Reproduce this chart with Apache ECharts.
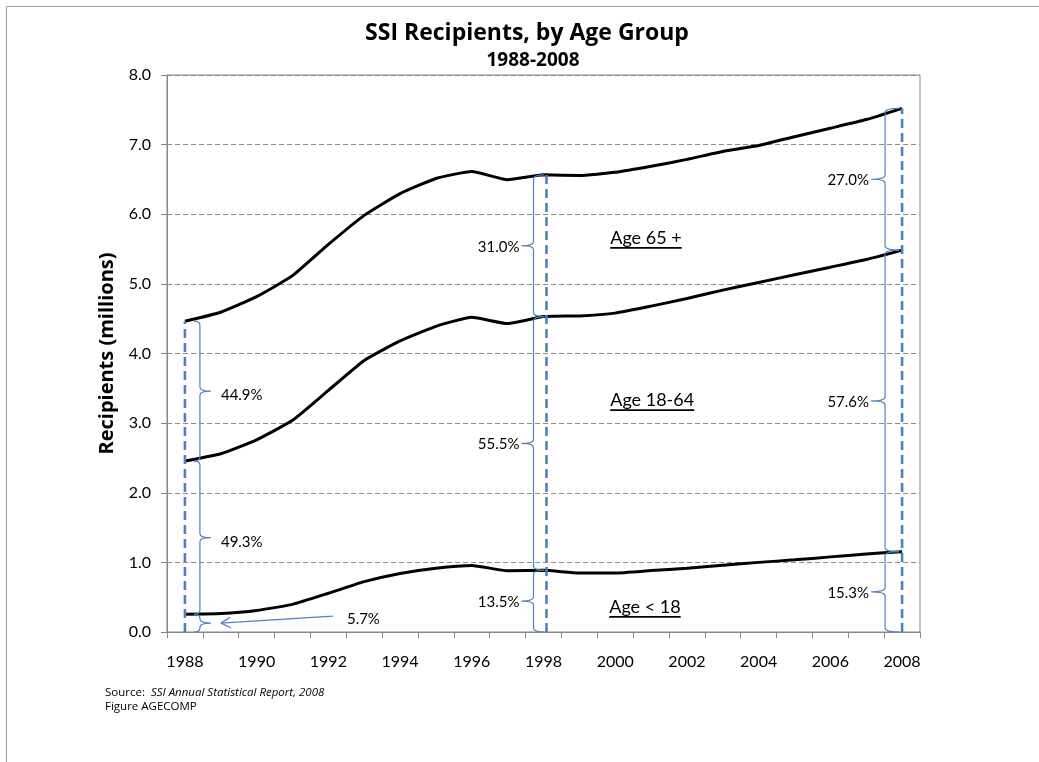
<!DOCTYPE html>
<html>
<head>
<meta charset="utf-8">
<script src="https://cdn.jsdelivr.net/npm/echarts@6/dist/echarts.min.js"></script>
<style>
html,body{margin:0;padding:0;background:#fff;}
#chart{width:1039px;height:762px;}
</style>
</head>
<body>
<div id="chart"></div>
<script>
// ---------- DATA ----------
const years = ['1988','1989','1990','1991','1992','1993','1994','1995','1996','1997','1998','1999','2000','2001','2002','2003','2004','2005','2006','2007','2008'];
// recipients in millions by group
const under18   = [0.255,0.265,0.309,0.397,0.556,0.723,0.841,0.917,0.955,0.880,0.887,0.847,0.847,0.882,0.915,0.959,1.000,1.036,1.079,1.121,1.153];
const age18to64 = [2.200,2.295,2.451,2.643,2.914,3.177,3.339,3.473,3.565,3.550,3.643,3.693,3.733,3.798,3.875,3.951,4.020,4.094,4.161,4.229,4.332];
const age65plus = [2.009,2.033,2.057,2.078,2.096,2.084,2.116,2.124,2.094,2.065,2.036,2.017,2.022,2.008,1.998,1.992,1.968,1.984,1.996,2.010,2.036];
const groupNames = ['Age < 18','Age 18-64','Age 65 +'];
// percent annotations
const annoYears  = ['1988','1998','2008'];
const pctUnder18 = ['5.7%','13.5%','15.3%'];
const pct18to64  = ['49.3%','55.5%','57.6%'];
const pct65plus  = ['44.9%','31.0%','27.0%'];
// axis
const yMin = 0, yMax = 8, yInterval = 1;
const titleText = 'SSI Recipients, by Age Group';
const subtitleText = '1988-2008';
const yAxisTitle = 'Recipients (millions)';
const sourceLabel = 'Source:  ';
const sourceItalic = 'SSI Annual Statistical Report, 2008';
const figureText = 'Figure AGECOMP';

// ---------- LAYOUT / STYLE (not data) ----------
const FONT = 'Lato, "Open Sans", sans-serif';
const FONT2 = '"Open Sans", Lato, sans-serif';
const BLUE = '#4F81BD';
const braceStyle = [
  {dir: 1,  dx: 15,  hook: 6,  point: 11, dashDx: 0},
  {dir: -1, dx: -10, hook: 11, point: 12, dashDx: 3},
  {dir: -1, dx: -17, hook: 14, point: 14, dashDx: 0}
];
const groupLabelLayout = [
  {cat: '2000', val: 0.36, dx: -6},
  {cat: '2000', val: 3.33, dx: -5},
  {cat: '2000', val: 5.66, dx: -5}
];

// ---------- derived ----------
const cum1 = under18.slice();
const cum2 = under18.map((v,i)=>v+age18to64[i]);
const cum3 = cum2.map((v,i)=>v+age65plus[i]);

const measureCtx = document.createElement('canvas').getContext('2d');
function textWidth(t, font){ measureCtx.font = font; return measureCtx.measureText(t).width; }

function bracePath(xv, y1, y2, dir, hook, point){
  const r = Math.min(4, (y2-y1)/4);
  const ym = (y1+y2)/2;
  const hx = xv - dir*hook;
  return 'M'+hx+','+y1+' Q'+xv+','+y1+' '+xv+','+(y1+r)+
         ' L'+xv+','+(ym-r)+' Q'+xv+','+ym+' '+(xv+dir*point)+','+ym+
         ' Q'+xv+','+ym+' '+xv+','+(ym+r)+' L'+xv+','+(y2-r)+
         ' Q'+xv+','+y2+' '+hx+','+y2;
}

const annos = annoYears.map((y,k)=>{
  const idx = years.indexOf(y);
  return {idx, k, segs: [
    [0, cum1[idx], pctUnder18[k]],
    [cum1[idx], cum2[idx], pct18to64[k]],
    [cum2[idx], cum3[idx], pct65plus[k]]
  ]};
});

const PCTFONT = '15px ' + FONT;
function renderAnno(params, api){
  const a = annos[params.dataIndex];
  const st = braceStyle[a.k];
  const base = api.coord([a.idx, 0]);
  const topP = api.coord([a.idx, a.segs[2][1]]);
  const cx = base[0];
  const children = [];
  children.push({type:'line', shape:{x1:cx+st.dashDx, y1:base[1], x2:cx+st.dashDx, y2:topP[1]},
    style:{stroke:BLUE, lineWidth:2.6, lineDash:[9,5]}, z2:5});
  const xv = cx + st.dx;
  a.segs.forEach((s, j)=>{
    const yb = api.coord([a.idx, s[0]])[1];
    const yt = api.coord([a.idx, s[1]])[1];
    children.push({type:'path', shape:{pathData: bracePath(xv, yt, yb, st.dir, st.hook, st.point)},
      style:{stroke:BLUE, lineWidth:1.2, fill:null}, z2:4});
    const tipX = xv + st.dir*st.point;
    const tipY = (yt+yb)/2;
    if (a.k === 0 && j === 0) {
      const x0 = tipX + 10, y0 = tipY;
      const x1 = tipX + 122, y1 = tipY - 7;
      children.push({type:'line', shape:{x1:x0,y1:y0,x2:x1,y2:y1}, style:{stroke:BLUE, lineWidth:1.2}});
      const ang = Math.atan2(y1-y0, x1-x0);
      [0.5,-0.5].forEach(d=>{
        children.push({type:'line', shape:{x1:x0,y1:y0,x2:x0+11*Math.cos(ang+d),y2:y0+11*Math.sin(ang+d)},
          style:{stroke:BLUE, lineWidth:1.2}});
      });
      children.push({type:'text', style:{text:s[2], x:x1+14, y:y1+3, fill:'#000', font:PCTFONT,
        align:'left', verticalAlign:'middle'}});
    } else if (st.dir > 0) {
      children.push({type:'text', style:{text:s[2], x:tipX+10, y:tipY+4, fill:'#000', font:PCTFONT,
        align:'left', verticalAlign:'middle'}});
    } else {
      children.push({type:'text', style:{text:s[2], x:tipX-2, y:tipY+1, fill:'#000', font:PCTFONT,
        align:'right', verticalAlign:'middle'}});
    }
  });
  return {type:'group', children};
}

function renderGroupLabel(params, api){
  const L = groupLabelLayout[params.dataIndex];
  const p = api.coord([years.indexOf(L.cat), L.val]);
  const font = '18px ' + FONT;
  const t = groupNames[params.dataIndex];
  const w = textWidth(t, font);
  const x = p[0] + L.dx;
  return {type:'group', children:[
    {type:'text', style:{text:t, x:x, y:p[1], fill:'#000', font:font, align:'left', verticalAlign:'middle'}},
    {type:'line', shape:{x1:x, y1:p[1]+10, x2:x+w, y2:p[1]+10}, style:{stroke:'#000', lineWidth:1.8}}
  ]};
}

const lineSeries = [under18, age18to64, age65plus].map((arr, i)=>({
  name: groupNames[i], type:'line', stack:'total', data: arr,
  showSymbol:false, smooth:0.15, z:3,
  lineStyle:{color:'#000', width:3}, itemStyle:{color:'#000'}
}));

const chart = echarts.init(document.getElementById('chart'), null, {renderer:'canvas'});
chart.setOption({
  animation:false,
  backgroundColor:'#fff',
  grid:{left:167, right:119, top:75, bottom:130, show:true, borderColor:'#868686', borderWidth:1, backgroundColor:'transparent'},
  xAxis:{
    type:'category', data:years, boundaryGap:true,
    axisLine:{lineStyle:{color:'#868686', width:1}},
    axisTick:{show:true, interval:0, length:6, lineStyle:{color:'#868686'}},
    axisLabel:{interval:1, color:'#000', fontSize:16, fontFamily:FONT, margin:22},
    splitLine:{show:false}
  },
  yAxis:{
    type:'value', min:yMin, max:yMax, interval:yInterval,
    name:yAxisTitle, nameLocation:'middle', nameGap:50,
    nameTextStyle:{fontSize:20, fontWeight:'bold', fontFamily:FONT2, color:'#000'},
    axisLine:{show:true, lineStyle:{color:'#868686', width:1}},
    axisTick:{show:true, length:6, lineStyle:{color:'#868686'}},
    axisLabel:{color:'#000', fontSize:16, fontFamily:FONT, margin:16, formatter:v=>v.toFixed(1)},
    splitLine:{show:true, lineStyle:{color:'#8c8c8c', type:[5,3], width:1}}
  },
  series: lineSeries.concat([
    {type:'custom', renderItem:renderAnno, data: annos.map(a=>[a.idx, a.segs[2][1]]), z:4, silent:true},
    {type:'custom', renderItem:renderGroupLabel, data: groupLabelLayout.map(L=>[years.indexOf(L.cat), L.val]), z:5, silent:true}
  ]),
  graphic:[
    {type:'rect', shape:{x:6.5, y:6.5, width:1040, height:770}, style:{stroke:'#9a9a9a', fill:null, lineWidth:1}, silent:true},
    {type:'text', x:527, y:33, style:{text:titleText, font:'bold 23px '+FONT2, fill:'#000', textAlign:'center', textVerticalAlign:'middle'}},
    {type:'text', x:533, y:61, style:{text:subtitleText, font:'bold 19px '+FONT2, fill:'#000', textAlign:'center', textVerticalAlign:'middle'}},
    {type:'text', x:105, y:693, style:{
      text:'{a|'+sourceLabel+'}{b|'+sourceItalic+'}',
      rich:{a:{fontSize:11.5, fontFamily:FONT2, fill:'#000', color:'#000'}, b:{fontSize:11.5, fontFamily:FONT2, fontStyle:'italic', fill:'#000', color:'#000'}},
      textVerticalAlign:'middle'}},
    {type:'text', x:105, y:707, style:{text:figureText, font:'11.5px '+FONT2, fill:'#000', textVerticalAlign:'middle'}}
  ]
});
</script>
</body>
</html>
